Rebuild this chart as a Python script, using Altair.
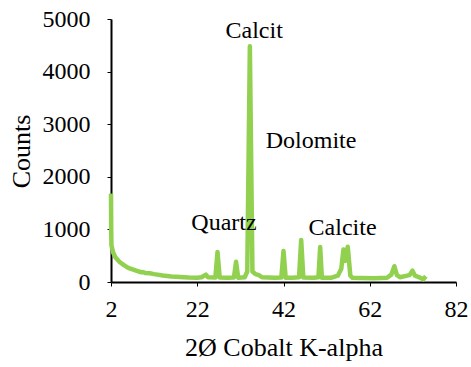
import altair as alt
import pandas as pd

# diffraction pattern (2-theta, counts)
two_theta = [2.0, 2.05, 2.1, 2.5, 3.0, 4.0, 5.0, 6.0, 7.0, 8.0, 9.0, 9.4, 10.0, 11.0, 12.0,
             14.0, 16.0, 18.0, 20.0, 22.0, 23.0, 24.0, 24.5, 26.2, 26.7, 27.2, 29.0, 30.5,
             31.0, 31.5, 33.0, 33.6, 34.2, 34.8, 35.5, 36.3, 37.0, 40.0, 41.5, 42.0, 42.5,
             44.0, 45.6, 46.1, 46.6, 49.0, 50.1, 50.5, 50.9, 53.0, 54.6, 55.4, 55.9, 56.3,
             56.9, 57.5, 58.0, 60.0, 63.0, 66.0, 67.0, 67.7, 68.3, 69.0, 71.2, 71.9, 72.5,
             73.5, 74.4, 75.0]
counts = [1680, 1000, 700, 560, 470, 380, 320, 270, 240, 210, 185, 190, 170, 165, 150,
          125, 105, 95, 85, 80, 90, 140, 90, 85, 570, 85, 80, 85,
          385, 80, 90, 200, 4480, 200, 150, 130, 90, 80, 85, 590, 80,
          80, 90, 800, 85, 80, 90, 665, 80, 80, 120, 250, 620, 400,
          670, 120, 80, 75, 70, 80, 140, 300, 130, 90, 130, 215, 120,
          90, 50, 110]

ann_labels = ["Calcit", "Dolomite", "Quartz", "Calcite"]
ann_x = [35.2, 48.4, 28.2, 55.7]
ann_y = [4630, 2540, 990, 890]

FONT = "Liberation Serif"

df = pd.DataFrame({"x": two_theta, "y": counts})
ann = pd.DataFrame({"label": ann_labels, "x": ann_x, "y": ann_y})

xscale = alt.Scale(domain=[2, 82], nice=False, zero=False)
yscale = alt.Scale(domain=[0, 5000], nice=False)

line = alt.Chart(df).mark_line(color="#92D050", strokeWidth=4.5, strokeJoin="round").encode(
    x=alt.X("x:Q", scale=xscale,
            axis=alt.Axis(title="2Ø Cobalt K-alpha", values=[2, 22, 42, 62, 82], format="d",
                          titleX=172.5, titleY=73, titleBaseline="alphabetic",
                          labelPadding=11, labelFont=FONT, labelFontWeight="normal")),
    y=alt.Y("y:Q", scale=yscale,
            axis=alt.Axis(title="Counts", values=[0, 1000, 2000, 3000, 4000, 5000], format="d",
                          titleX=-82, titleY=132, titleBaseline="alphabetic",
                          titleAngle=-90, titleAlign="center", labelPadding=17,
                          labelFont=FONT, labelFontWeight="normal")),
    order="x:Q",
)

text = alt.Chart(ann).mark_text(font=FONT, fontSize=24, color="black", fontWeight="normal",
                                baseline="alphabetic", align="center").encode(
    x=alt.X("x:Q", scale=xscale),
    y=alt.Y("y:Q", scale=yscale),
    text="label:N",
)

chart = alt.layer(line, text).properties(
    width=345, height=263,
    autosize=alt.AutoSizeParams(type="none"),
    padding={"left": 111, "top": 19, "right": 15, "bottom": 85},
).configure(font=FONT).configure_view(stroke=None).configure_axis(
    grid=False, domainColor="black", domainWidth=2, tickColor="black", tickWidth=1,
    tickSize=4, labelFont=FONT, labelFontSize=24, labelColor="black",
    titleFont=FONT, titleFontSize=26, titleFontWeight="normal", titleColor="black",
    labelFlush=False, labelOverlap=False,
)

chart.save("out.html", embed_options={"renderer": "svg", "actions": False})
